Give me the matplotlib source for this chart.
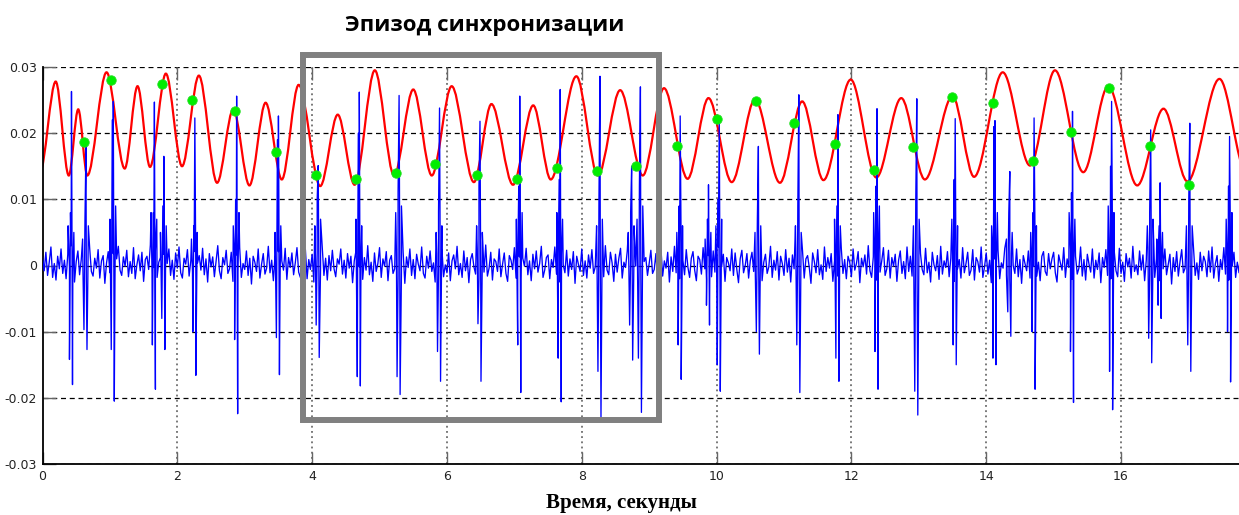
import numpy as np
import matplotlib
matplotlib.use('Agg')
import matplotlib.pyplot as plt
from matplotlib.path import Path
from matplotlib.patches import PathPatch, Rectangle

# ---------------- data ----------------
# red curve: successive extrema (time, value)
red_t = [-0.04, 0.196, 0.39, 0.53, 0.665, 0.95, 1.22, 1.41, 1.595, 1.83, 2.07, 2.32,
         2.59, 2.83, 3.07, 3.31, 3.55, 3.80, 4.12, 4.38, 4.63, 4.93, 5.215, 5.50,
         5.775, 6.07, 6.40, 6.66, 6.98, 7.28, 7.54, 7.92, 8.24, 8.57, 8.905, 9.22,
         9.57, 9.88, 10.225, 10.57, 10.94, 11.27, 11.585, 11.99, 12.37, 12.74, 13.09,
         13.50, 13.82, 14.245, 14.65, 15.02, 15.44, 15.81, 16.24, 16.63, 16.985,
         17.46, 17.86]
red_v = [0.0140, 0.0278, 0.0136, 0.0236, 0.0136, 0.0292, 0.01465, 0.0271, 0.0149,
         0.0290, 0.0150, 0.0287, 0.0125, 0.0236, 0.0121, 0.0246, 0.0130, 0.0273,
         0.0120, 0.0228, 0.0122, 0.0295, 0.0136, 0.0266, 0.0136, 0.0271, 0.0126,
         0.0244, 0.0122, 0.0242, 0.0130, 0.0286, 0.0136, 0.0265, 0.0136, 0.0268,
         0.0131, 0.0253, 0.0126, 0.0251, 0.0125, 0.0248, 0.0129, 0.0281, 0.0133,
         0.0253, 0.0130, 0.0256, 0.0134, 0.0292, 0.0151, 0.0295, 0.0141, 0.0271,
         0.0121, 0.0237, 0.0127, 0.0282, 0.0140]

# green markers (synchronisation points)
dot_t = [0.62, 1.02, 1.78, 2.22, 2.85, 3.46, 4.06, 4.65, 5.25, 5.83, 6.45, 7.04,
         7.63, 8.22, 8.81, 9.42, 10.00, 10.59, 11.15, 11.76, 12.34, 12.92, 13.49,
         14.10, 14.69, 15.26, 15.82, 16.43, 17.01]
dot_v = [0.0186, 0.0281, 0.0274, 0.0250, 0.0234, 0.0171, 0.0137, 0.0130, 0.0140,
         0.0154, 0.0137, 0.0130, 0.0147, 0.0143, 0.0151, 0.0181, 0.0222, 0.0249,
         0.0215, 0.0184, 0.0145, 0.0179, 0.0255, 0.0246, 0.0158, 0.0202, 0.0268,
         0.0181, 0.0121]

# blue signal: beat complexes
beat_t = [0.43, 0.645, 1.05, 1.66, 1.80, 2.26, 2.88, 3.50, 4.09, 4.70, 5.29, 5.89,
          6.49, 7.08, 7.68, 8.27, 8.74, 8.87, 9.46, 9.88, 10.04, 10.62, 11.22, 11.80,
          12.38, 12.97, 13.54, 14.13, 14.35, 14.71, 15.28, 15.86, 16.44, 16.58,
          17.02, 17.61]
beat_up = [0.0263, 0.0180, 0.0248, 0.0247, 0.0165, 0.0223, 0.0256, 0.0226, 0.0151,
           0.0262, 0.0257, 0.0238, 0.0218, 0.0256, 0.0266, 0.0286, 0.0150, 0.0270,
           0.0226, 0.0122, 0.0218, 0.0180, 0.0258, 0.0228, 0.0237, 0.0252, 0.0222,
           0.0219, 0.0142, 0.0223, 0.0233, 0.0248, 0.0205, 0.0125, 0.0215, 0.0195]
beat_dn = [-0.0180, -0.0127, -0.0205, -0.0187, -0.0127, -0.0166, -0.0224, -0.0165,
           -0.0139, -0.0182, -0.0195, -0.0175, -0.0175, -0.0192, -0.0206, -0.0230,
           -0.0143, -0.0222, -0.0172, -0.0090, -0.0190, -0.0134, -0.0192, -0.0175,
           -0.0187, -0.0226, -0.0150, -0.0150, -0.0107, -0.0187, -0.0207, -0.0218,
           -0.0147, -0.0080, -0.0160, -0.0176]
beat_up2 = [0.008, 0.007, 0.022, 0.008, 0.009, 0.006, 0.010, 0.019, 0.010, 0.020,
            0.011, 0.008, 0.012, 0.012, 0.013, 0.010, 0.008, 0.012, 0.009, 0.007,
            0.010, 0.007, 0.009, 0.009, 0.012, 0.010, 0.013, 0.021, 0.008, 0.008,
            0.011, 0.015, 0.008, 0.006, 0.010, 0.012]
beat_dn2 = [-0.0142, -0.0097, -0.0127, -0.012, -0.008, -0.010, -0.0112, -0.0109,
            -0.009, -0.0168, -0.0168, -0.0130, -0.0088, -0.012, -0.014, -0.016,
            -0.009, -0.014, -0.012, -0.006, -0.015, -0.010, -0.012, -0.014, -0.013,
            -0.019, -0.012, -0.014, -0.007, -0.010, -0.013, -0.016, -0.011, -0.006,
            -0.012, -0.010]
beat_pre = [0.006, 0.004, 0.007, 0.008, 0.005, 0.004, 0.006, 0.005, 0.006, 0.007,
            0.008, 0.005, 0.006, 0.007, 0.008, 0.006, 0.005, 0.007, 0.005, 0.004,
            0.006, 0.005, 0.006, 0.007, 0.008, 0.006, 0.007, 0.006, 0.004, 0.005,
            0.008, 0.009, 0.006, 0.004, 0.006, 0.007]
beat_post = [0.005, 0.006, 0.009, 0.007, 0.006, 0.005, 0.008, 0.006, 0.007, 0.006,
             0.009, 0.006, 0.005, 0.008, 0.007, 0.007, 0.006, 0.009, 0.006, 0.005,
             0.007, 0.006, 0.005, 0.006, 0.009, 0.007, 0.006, 0.008, 0.005, 0.006,
             0.007, 0.008, 0.007, 0.005, 0.006, 0.008]

# blue signal: background noise, units of 1e-4, one value every noise_dt seconds
noise_dt = 0.025
noise = [
    12, -8, 20, -15, 5, 28, -18, 3, -22, 14, -5, 25, -12, 8, -20, 17, -3, 30, -10, -25, 6, 22, -14, 9, -6, 19, -21, 2, 26, -9,
    -16, 11, -4, 24, -19, 7, 15, -27, 4, 21, -11, -2, 18, -23, 10, 29, -7, -15, 13, -1, 23, -17, 6, -12, 27, -20, 1, 16, -8, 20,
    -24, 9, 14, -6, 31, -13, -3, 22, -18, 5, 12, -26, 17, -9, 3, 25, -15, 8, -21, 19, -4, 28, -11, -19, 11, 2, 24, -16, 7, -10,
    21, -22, 4, 15, -7, 26, -14, 10, -25, 18, -2, 13, -17, 6, 30, -8, -20, 12, 1, 23, -12, -5, 20, -24, 9, 16, -10, 27, -18, 3,
    -6, 22, -15, 11, -28, 14, 5, -9, 25, -19, 2, 18, -13, -4, 29, -11, 8, -23, 16, -1, 21, -16, 7, -7, 26, -21, 12, -3, 19, -14,
    4, 27, -10, -18, 13, 0, 24, -20, 9, -6, 17, -25, 6, 20, -12, -3, 28, -15, 11, -22, 15, -8, 23, -5, -17, 10, 2, 25, -13, 8,
    -19, 18, -4, 14, -26, 7, 22, -11, -2, 16, -21, 12, -7, 30, -14, 5, -24, 19, -9, 3, 27, -18, 10, -1, 21, -23, 8, 15, -12, -5,
    24, -16, 6, -10, 20, -27, 13, -3, 25, -15, 9, -20, 17, 2, -8, 28, -12, -19, 14, -4, 22, -9, 4, -25, 18, -6, 11, 26, -17, 1,
    -11, 19, -23, 7, 16, -5, 29, -14, 3, -18, 22, -8, 12, -26, 9, 18, -2, -13, 24, -20, 5, 14, -10, 31, -16, -4, 20, -22, 10, 6,
    -9, 25, -17, 2, 19, -12, -24, 15, 8, -6, 27, -19, 4, 13, -21, 11, -1, 26, -14, 7, -23, 17, -5, 22, -10, 3, 29, -18, -7, 12,
    16, -20, 9, -3, 28, -13, 6, -25, 18, 1, -11, 23, -16, 10, -6, 21, -27, 14, 2, -9, 25, -15, 7, -19, 16, -4, 24, -12, -2, 19,
    -22, 8, 13, -17, 30, -7, -14, 20, 4, -24, 17, -10, 11, 26, -19, 5, -3, 22, -13, 9, -26, 18, -1, 15, -8, 27, -21, 6, 12, -15,
    3, 23, -12, -6, 18, -22, 10, 25, -16, 7, -4, 20, -25, 13, -9, 29, -11, 1, -20, 16, 8, -14, 24, -3, -18, 11, 21, -7, -23, 14,
    9, -13, 27, -5, -21, 15, 2, -17, 22, -10, 6, 28, -20, -1, 17, -24, 12, 4, -8, 25, -15, 19, -6, -26, 10, 23, -11, 0, 18, -19,
    7, 20, -9, -16, 26, -4, 13, -23, 5, 17, -12, -2, 29, -18, 8, -7, 21, -22, 14, 3, -15, 24, -10, 11, -25, 16, -5, 27, -13, 2,
    -8, 22, -19, 10, 15, -3, -27, 19, 6, -11, 24, -14, 1, -21, 28, -9, 12, -4, 18, -24, 7, 20, -16, -6, 26, -12, 9, -20, 14, 5,
    -17, 25, -7, 3, 21, -26, 11, -2, 16, -13, 30, -8, -18, 13, 4, -22, 19, -10, 7, 27, -15, -5, 23, -19, 12, -1, 17, -24, 8, 22,
    -12, 6, -20, 28, -9, 14, -16, 2, 24, -23, 10, 18, -6, -14, 26, -11, 5, -25, 20, 1, -8, 15, -21, 29, -13, 7, -3, 21, -17, 11,
    13, -24, 17, -5, 9, -19, 27, -11, 3, 20, -15, -7, 24, -22, 12, 6, -10, 28, -18, -2, 19, -13, 8, -26, 16, 10, -6, 23, -20, 4,
    -4, 26, -14, 7, -21, 18, 0, -12, 25, -17, 9, -27, 15, 3, -8, 22, -19, 11, -1, 30, -16, 5, -23, 14, 21, -9, -15, 18, -5, 10,
    20, -11, -25, 16, 4, -7, 27, -18, 10, -3, 23, -21, 6, 14, -13, -4, 28, -16, 9, -22, 17, 2, -10, 25, -19, 8, -6, 19, -26, 12,
    -3, 24, -15, 8, -20, 13, 21, -8, -17, 26, -12, 5, -24, 18, -2, 11, -19, 29, -9, 1, -14, 22, -7, 16, -23, 9, 27, -13, -1, 15,
    -18, 10, 19, -23, 7, -5, 25, -14, 2, 17, -28, 12, -9, 21, -16, 6, 24, -11, -4, 18, -20, 13, -2, 26, -15, 4, -21, 20, -8, 14,
    6, -17, 22, -10, 28, -19, 3, 15, -24, 9, -6, 27, -13, 11, -22, 16, -1, 20, -18, 5, -11, 24, -7, -16, 19, 2, -25, 13, -4, 21,
]

x_ticks = [0, 2, 4, 6, 8, 10, 12, 14, 16]
y_ticks = [-0.03, -0.02, -0.01, 0, 0.01, 0.02, 0.03]
y_tick_labels = ['-0.03', '-0.02', '-0.01', '0', '0.01', '0.02', '0.03']
title_text = 'Эпизод синхронизации'
xlabel_text = 'Время, секунды'
sync_window = (3.865, 9.147)   # seconds
sync_window_y = (-0.0233, 0.0318)

# ---------------- figure ----------------
W, H = 1239, 515
fig = plt.figure(figsize=(W / 100, H / 100), dpi=100)
ax = fig.add_axes([42.5 / W, 51 / H, (W - 42.5) / W, 397 / H])
ax.set_xlim(0, 17.75)
ax.set_ylim(-0.03, 0.03)

# red curve: cubic Bezier segments between extrema (horizontal tangents)
verts = [(red_t[0], red_v[0])]
codes = [Path.MOVETO]
for i in range(len(red_t) - 1):
    t0, v0, t1, v1 = red_t[i], red_v[i], red_t[i + 1], red_v[i + 1]
    d = t1 - t0
    verts += [(t0 + d / 3, v0), (t1 - d / 3, v1), (t1, v1)]
    codes += [Path.CURVE4] * 3
ax.add_patch(PathPatch(Path(verts, codes), fill=False, edgecolor='#ff0000',
                       lw=1.6, zorder=2, capstyle='round'))

# blue signal
bt = np.asarray(beat_t)
t_parts = [np.arange(len(noise)) * noise_dt, bt - 0.05, bt - 0.03, bt - 0.015, bt,
           bt + 0.015, bt + 0.035]
v_parts = [np.asarray(noise) * 1e-4, beat_pre, beat_dn2, beat_up2, beat_up,
           beat_dn, beat_post]
bt_all = np.concatenate(t_parts)
bv_all = np.concatenate([np.asarray(v, dtype=float) for v in v_parts])
order = np.argsort(bt_all, kind='stable')
ax.plot(bt_all[order], bv_all[order], color='#0000ff', lw=0.95, zorder=3)

# green markers
ax.plot(dot_t, dot_v, 'o', ms=6.8, color='#00ee00', mec='#22dd22', mew=0.6,
        zorder=4, ls='none')

# synchronisation window box
ax.add_patch(Rectangle((sync_window[0], sync_window_y[0]),
                       sync_window[1] - sync_window[0],
                       sync_window_y[1] - sync_window_y[0],
                       fill=False, edgecolor='#808080', lw=4.3, joinstyle='miter',
                       clip_on=False, zorder=6))

# grid
for yv in y_ticks:
    ax.axhline(yv, color='black', lw=0.9, ls=(0, (4, 3)), zorder=1)
for xv in x_ticks[1:]:
    ax.axvline(xv, color='#555555', lw=1.1, ls=(0, (1.2, 2.2)), zorder=1)

# axes styling
for s in ['top', 'right']:
    ax.spines[s].set_visible(False)
for s in ['left', 'bottom']:
    ax.spines[s].set_color('black')
    ax.spines[s].set_linewidth(1.3)
ax.set_xticks(x_ticks)
ax.set_xticklabels([str(v) for v in x_ticks])
ax.set_yticks(y_ticks)
ax.set_yticklabels(y_tick_labels)
tick_font = ['Liberation Sans Narrow', 'DejaVu Sans']
for lab in ax.get_xticklabels() + ax.get_yticklabels():
    lab.set_family(tick_font)
    lab.set_fontsize(9)
    lab.set_color('#222222')
ax.tick_params(direction='in', length=9, width=1.0, color='#666666', top=True,
               pad=4)

fig.text(485 / W, 1 - 26 / H, title_text, ha='center', va='center',
         fontsize=16, fontweight='bold', family=['Open Sans', 'DejaVu Sans'])
fig.text(621 / W, 1 - 503 / H, xlabel_text, ha='center', va='center',
         fontsize=15, fontweight='bold', family=['Liberation Serif', 'DejaVu Serif'])

fig.savefig('out.png', dpi=100)
